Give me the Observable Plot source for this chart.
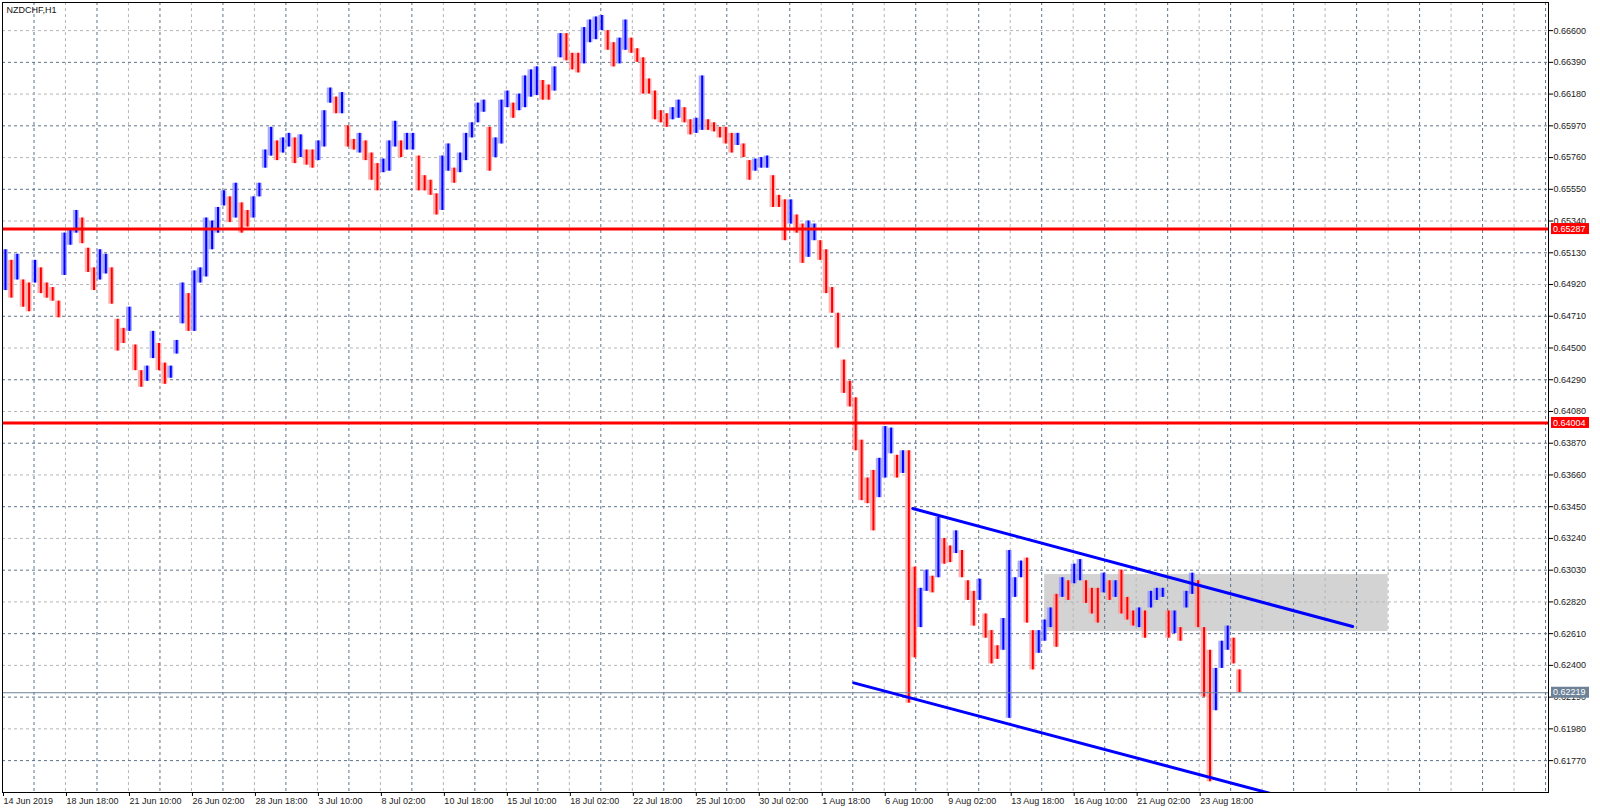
<!DOCTYPE html>
<html><head><meta charset="utf-8">
<script src="https://cdn.jsdelivr.net/npm/d3@7"></script>
<script src="https://cdn.jsdelivr.net/npm/@observablehq/plot@0.6"></script>
<style>body{margin:0;background:#fff;} svg{display:block}</style>
</head><body><div id="chart"></div>
<script>
const symbol = "NZDCHF,H1";
const barsPerSample = 6; // each sample = 6 hourly bars, starting 14 Jun 2019
const highs = [
0.6515,0.6508,0.6512,0.6495,0.6493,0.6508,0.6503,0.6493,0.6490,0.6481,
0.6526,0.6529,0.6541,0.6536,0.6516,0.6503,0.6515,0.6512,0.6503,0.6469,
0.6463,0.6477,0.6452,0.6435,0.6438,0.6461,0.6453,0.6440,0.6438,0.6455,
0.6493,0.6486,0.6501,0.6503,0.6536,0.6534,0.6543,0.6554,0.6550,0.6559,
0.6546,0.6541,0.6550,0.6559,0.6581,0.6596,0.6587,0.6589,0.6592,0.6589,
0.6591,0.6581,0.6581,0.6587,0.6607,0.6622,0.6616,0.6619,0.6597,0.6588,
0.6592,0.6587,0.6579,0.6572,0.6575,0.6587,0.6600,0.6587,0.6592,0.6592,
0.6577,0.6564,0.6561,0.6552,0.6577,0.6585,0.6569,0.6579,0.6592,0.6599,
0.6612,0.6614,0.6596,0.6589,0.6614,0.6620,0.6612,0.6618,0.6630,0.6634,
0.6636,0.6627,0.6624,0.6636,0.6658,0.6658,0.6645,0.6645,0.6662,0.6667,
0.6669,0.6670,0.6660,0.6652,0.6655,0.6667,0.6655,0.6648,0.6642,0.6628,
0.6620,0.6607,0.6605,0.6609,0.6614,0.6609,0.6601,0.6602,0.6630,0.6601,
0.6599,0.6596,0.6596,0.6592,0.6592,0.6585,0.6574,0.6575,0.6576,0.6577,
0.6564,0.6551,0.6548,0.6548,0.6538,0.6532,0.6534,0.6532,0.6521,0.6515,
0.6490,0.6473,0.6442,0.6428,0.6417,0.6389,0.6364,0.6369,0.6377,0.6398,
0.6397,0.6379,0.6382,0.6382,0.6305,0.6291,0.6303,0.6299,0.6338,0.6324,
0.6319,0.6329,0.6316,0.6296,0.6289,0.6297,0.6274,0.6263,0.6253,0.6271,
0.6316,0.6298,0.6309,0.6311,0.6263,0.6263,0.6270,0.6278,0.6287,0.6298,
0.6296,0.6307,0.6310,0.6296,0.6291,0.6291,0.6301,0.6296,0.6296,0.6303,
0.6285,0.6276,0.6278,0.6276,0.6289,0.6291,0.6291,0.6276,0.6276,0.6265,
0.6289,0.6301,0.6296,0.6265,0.6250,0.6238,0.6256,0.6266,0.6258,0.6237
];
const lows = [
0.6488,0.6483,0.6495,0.6477,0.6474,0.6493,0.6486,0.6483,0.6481,0.6470,
0.6498,0.6518,0.6526,0.6519,0.6500,0.6488,0.6495,0.6499,0.6479,0.6448,
0.6453,0.6461,0.6435,0.6424,0.6428,0.6443,0.6435,0.6426,0.6430,0.6446,
0.6466,0.6461,0.6461,0.6493,0.6497,0.6515,0.6526,0.6544,0.6533,0.6536,
0.6526,0.6530,0.6536,0.6550,0.6569,0.6577,0.6574,0.6579,0.6583,0.6572,
0.6576,0.6571,0.6569,0.6574,0.6583,0.6612,0.6605,0.6605,0.6583,0.6581,
0.6579,0.6574,0.6561,0.6554,0.6566,0.6567,0.6583,0.6576,0.6581,0.6581,
0.6554,0.6554,0.6551,0.6538,0.6541,0.6567,0.6559,0.6566,0.6574,0.6589,
0.6599,0.6606,0.6567,0.6576,0.6585,0.6609,0.6602,0.6607,0.6609,0.6616,
0.6617,0.6614,0.6614,0.6620,0.6642,0.6640,0.6634,0.6632,0.6638,0.6652,
0.6654,0.6660,0.6647,0.6636,0.6638,0.6647,0.6645,0.6639,0.6618,0.6618,
0.6601,0.6599,0.6596,0.6601,0.6602,0.6599,0.6591,0.6592,0.6594,0.6594,
0.6593,0.6589,0.6585,0.6579,0.6584,0.6576,0.6561,0.6567,0.6569,0.6569,
0.6543,0.6543,0.6521,0.6532,0.6526,0.6506,0.6510,0.6521,0.6508,0.6486,
0.6473,0.6450,0.6420,0.6411,0.6382,0.6349,0.6347,0.6329,0.6351,0.6364,
0.6380,0.6364,0.6367,0.6215,0.6245,0.6265,0.6289,0.6288,0.6298,0.6307,
0.6308,0.6314,0.6298,0.6283,0.6266,0.6283,0.6258,0.6241,0.6244,0.6250,
0.6205,0.6285,0.6298,0.6268,0.6237,0.6248,0.6256,0.6265,0.6252,0.6285,
0.6283,0.6294,0.6296,0.6281,0.6274,0.6268,0.6288,0.6283,0.6285,0.6274,
0.6270,0.6266,0.6265,0.6258,0.6278,0.6283,0.6285,0.6258,0.6261,0.6256,
0.6278,0.6287,0.6265,0.6219,0.6163,0.6210,0.6238,0.6250,0.6241,0.6222
];
const xLabels = ["14 Jun 2019","18 Jun 18:00","21 Jun 10:00","26 Jun 02:00","28 Jun 18:00","3 Jul 10:00","8 Jul 02:00","10 Jul 18:00","15 Jul 10:00","18 Jul 02:00","22 Jul 18:00","25 Jul 10:00","30 Jul 02:00","1 Aug 18:00","6 Aug 10:00","9 Aug 02:00","13 Aug 18:00","16 Aug 10:00","21 Aug 02:00","23 Aug 18:00"];
const barsPerLabel = 64;
const priceTicks = [0.66600,0.66390,0.66180,0.65970,0.65760,0.65550,0.65340,0.65130,0.64920,0.64710,0.64500,0.64290,0.64080,0.63870,0.63660,0.63450,0.63240,0.63030,0.62820,0.62610,0.62400,0.62190,0.61980,0.61770];
const levels = [0.65287, 0.64004];
const bid = 0.62219;
const upperTrend = [{bar: 925, price: 0.63438}, {bar: 1372, price: 0.62657}];
const lowerTrend = [{bar: 865, price: 0.62284}, {bar: 1290, price: 0.61550}];
const zone = [{bar1: 1059, bar2: 1408, top: 0.63001, bottom: 0.62624}];
const visibleBars = [0, 1571];
const visiblePrices = [0.61559, 0.66786];

const samples = highs.map((h, i) => ({bar: i * barsPerSample, end: (i + 1) * barsPerSample, mid: i * barsPerSample + barsPerSample / 2, hi: h, lo: lows[i]}));
samples.forEach((d, i) => {
  const p = i ? samples[i - 1] : d;
  d.up = (d.hi + d.lo) >= (p.hi + p.lo);
});
const labelBars = xLabels.map((_, i) => i * barsPerLabel);
const labelOf = new Map(labelBars.map((b, i) => [b, xLabels[i]]));
const gridBars = d3.range(0, visibleBars[1], barsPerLabel / 2);

const dark = "#5d7389", light = "#b6b6b6";

const chart = Plot.plot({
  width: 1600, height: 812,
  marginLeft: 2, marginRight: 52, marginTop: 2, marginBottom: 20,
  style: {fontFamily: "'Liberation Sans', Arial, sans-serif", fontSize: "9px", color: "#000", background: "#fff", overflow: "visible"},
  x: {domain: visibleBars, axis: null},
  y: {domain: visiblePrices, axis: null},
  marks: [
    Plot.rect(zone, {x1: "bar1", x2: "bar2", y1: "top", y2: "bottom", fill: "#d3d3d3"}),
    Plot.ruleX(gridBars, {x: d => d, stroke: d => (d / 32) % 2 ? dark : light, strokeDasharray: "3,3"}),
    Plot.ruleY(priceTicks, {y: d => d, stroke: (d, i) => i % 2 ? dark : light, strokeDasharray: "3,3"}),
    Plot.rect(samples, {x1: "bar", x2: "end", y1: "lo", y2: "hi", fill: d => d.up ? "#9090ff" : "#ff9a9a", fillOpacity: 0.75}),
    Plot.ruleX(samples, {x: "mid", y1: "lo", y2: "hi", stroke: d => d.up ? "#0000ff" : "#ff0000", strokeWidth: 2}),
    Plot.ruleY([bid], {y: d => d, stroke: "#6d8297", strokeWidth: 1}),
    Plot.ruleY(levels, {y: d => d, stroke: "#ff0000", strokeWidth: 3}),
    Plot.line(upperTrend, {x: "bar", y: "price", stroke: "#0000ff", strokeWidth: 3}),
    Plot.line(lowerTrend, {x: "bar", y: "price", stroke: "#0000ff", strokeWidth: 3, clip: true}),
    Plot.frame({stroke: "#000"}),
    Plot.axisY(priceTicks, {anchor: "right", tickFormat: d => d.toFixed(5), tickSize: 4, tickPadding: 1, fill: "#222"}),
    Plot.axisX(labelBars, {anchor: "bottom", tickFormat: d => labelOf.get(d), tickSize: 4, tickPadding: 1, textAnchor: "start", dx: 1, fill: "#222"}),
    Plot.text([symbol], {frameAnchor: "top-left", text: d => d, dx: 4, dy: 4, lineAnchor: "top", textAnchor: "start", fill: "#111"})
  ]
});

document.getElementById("chart").appendChild(chart);

// price tag boxes on the right scale
const ys = chart.scale("y");
const svg = d3.select(chart);
const tagX = 1600 - 52 + 3;
function tag(v, fill) {
  const cy = ys.apply(v);
  const g = svg.append("g").attr("text-anchor", "start");
  g.append("rect").attr("x", tagX).attr("y", cy - 5.5).attr("width", 38).attr("height", 11).attr("fill", fill);
  g.append("text").attr("x", tagX + 2).attr("y", cy).attr("dy", "0.35em").attr("text-anchor", "start")
    .attr("fill", "#fff").attr("font-size", 9).attr("font-family", "'Liberation Sans', Arial, sans-serif")
    .text(v.toFixed(5));
}
levels.forEach(v => tag(v, "#ff0000"));
tag(bid, "#6d8297");
</script></body></html>
